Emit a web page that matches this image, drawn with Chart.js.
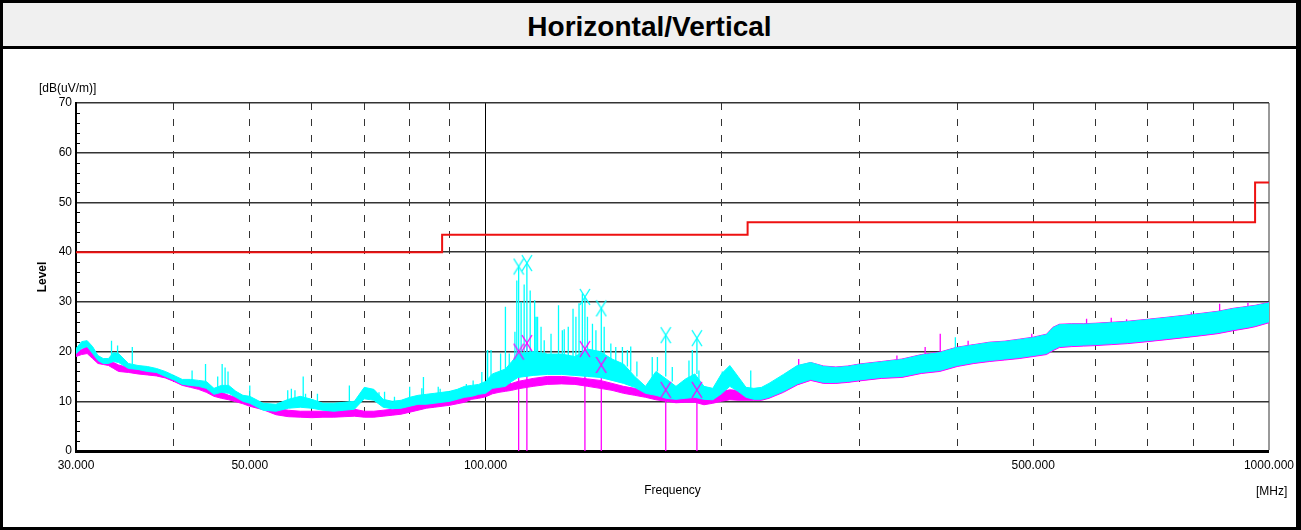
<!DOCTYPE html>
<html><head><meta charset="utf-8">
<script src="https://cdn.jsdelivr.net/npm/chart.js@4/dist/chart.umd.min.js"></script>
<style>
html,body{margin:0;padding:0;background:#fff;}
#wrap{position:relative;width:1301px;height:530px;overflow:hidden;}
#c{position:absolute;left:0;top:0;}
#frame{position:absolute;left:0;top:0;width:1301px;height:530px;box-sizing:border-box;border:3px solid #000;border-right-width:5px;pointer-events:none;}
#title{position:absolute;left:3px;top:3px;width:1293px;height:43px;background:#f0f0f0;border-bottom:3px solid #000;text-align:center;font:bold 28px 'Liberation Sans',Arial,sans-serif;line-height:47px;color:#000;}
.unit{position:absolute;font:12px 'Liberation Sans Narrow','Liberation Sans',Arial,sans-serif;color:#000;white-space:nowrap;line-height:12px;}
</style></head><body>
<div id="wrap">
<canvas id="c" width="1301" height="530"></canvas>
<div id="title">Horizontal/Vertical</div>
<div class="unit" style="left:39px;top:82px">[dB(uV/m)]</div>
<div class="unit" style="left:1256px;top:485px">[MHz]</div>
<div id="frame"></div>
</div>
<script>
// ---- data ----
const freqMHz = [
 30,30.5,31,31.5,32,32.5,33,33.5,34,35,
 36,37,38,39,40,41,42,43,44,45,
 46,47,48,49,50,52,54,56,58,60,
 62,64,66,68,70,72,74,76,78,80,
 82,84,86,88,90,92,94,96,98,100,
 102,104,106,108,110,115,120,125,130,135,
 140,145,150,155,160,165,170,175,180,185,
 190,195,200,205,210,215,220,225,230,240,
 250,260,270,280,290,300,320,340,360,380,
 400,420,440,460,480,500,520,530,540,560,
 580,600,630,660,700,740,780,820,860,900,
 940,960,980,1000];
const magentaTop = [
 20.0,20.4,21.0,19.8,18.6,18.3,18.0,17.8,17.3,16.8,
 16.5,16.3,16.2,15.7,15.0,14.2,13.7,13.4,12.8,12.0,
 11.8,11.2,10.8,10.4,10.2,9.2,8.6,8.2,8.0,8.0,
 8.0,8.1,8.3,8.4,8.0,8.0,8.2,8.4,8.6,9.0,
 9.4,9.8,10.0,10.2,10.4,10.7,11.0,11.6,11.9,12.2,
 12.8,13.1,13.4,13.6,14.0,14.6,15.0,15.0,14.8,14.5,
 14.2,13.6,13.0,12.6,12.2,11.8,11.4,11.0,11.4,11.8,
 11.0,11.5,12.0,12.3,12.2,12.0,11.8,12.4,13.2,15.2,
 17.1,17.8,17.1,16.9,17.1,17.5,18.0,18.5,19.4,19.9,
 20.9,21.4,21.9,22.1,22.5,22.9,23.5,24.9,25.5,25.6,
 25.6,25.7,25.9,26.1,26.5,26.9,27.3,27.7,28.1,28.7,
 29.1,29.3,29.6,29.9];
const magentaBottom = [
 19.0,19.4,19.6,18.6,17.6,17.4,17.2,16.6,16.0,15.8,
 15.5,15.3,15.1,14.7,14.0,13.2,12.8,12.4,11.8,11.0,
 10.6,10.3,9.9,9.5,9.0,8.3,7.3,6.9,6.8,6.7,
 6.8,6.8,6.9,7.0,6.8,6.8,7.0,7.2,7.4,7.8,
 8.2,8.6,8.8,9.0,9.2,9.5,9.8,10.4,10.6,10.9,
 11.5,11.8,12.0,12.2,12.5,13.0,13.4,13.5,13.4,13.0,
 12.6,12.2,11.6,11.2,10.8,10.3,10.0,9.7,9.8,9.8,
 9.3,9.6,10.0,10.3,10.2,10.2,10.2,10.2,10.6,11.8,
 13.3,14.2,13.6,13.6,13.8,14.1,14.6,14.8,15.6,16.0,
 17.0,17.6,18.0,18.3,18.6,19.0,19.4,20.2,20.8,21.0,
 21.1,21.2,21.4,21.6,22.0,22.4,22.8,23.2,23.6,24.2,
 24.7,25.0,25.4,25.8];
const cyanTop = [
 20.6,22.0,22.2,21.0,19.2,18.6,18.6,19.8,19.6,17.6,
 17.2,17.0,16.6,16.0,15.2,14.4,14.4,14.2,14.0,12.6,
 13.2,13.2,12.0,11.2,11.0,9.6,9.4,10.4,11.0,10.4,
 9.6,9.6,9.8,10.0,12.8,12.4,10.4,10.0,10.2,10.8,
 11.2,11.4,11.6,11.8,12.0,12.4,13.0,13.2,13.4,14.0,
 15.5,16.0,16.5,18.0,19.5,20.0,19.5,19.5,19.0,20.5,
 20.0,18.5,17.5,15.0,13.0,16.0,14.5,13.0,14.5,15.5,
 13.0,12.6,15.5,17.2,15.0,12.8,12.6,12.8,13.6,15.4,
 17.2,17.8,17.0,16.8,17.0,17.4,17.9,18.4,19.3,19.8,
 20.8,21.3,21.8,22.0,22.4,22.8,23.4,24.8,25.4,25.5,
 25.5,25.6,25.8,26.0,26.4,26.8,27.2,27.6,28.0,28.6,
 29.0,29.2,29.5,29.8];
const cyanBottom = [
 19.6,20.6,21.0,19.6,18.2,17.6,17.6,18.0,17.8,16.6,
 16.4,16.0,15.8,15.0,14.3,13.4,13.2,13.0,12.6,11.4,
 11.8,11.6,10.8,10.0,9.6,8.2,8.0,8.6,8.8,8.6,
 8.2,8.0,8.2,8.4,10.5,10.2,8.8,8.5,8.6,9.0,
 9.4,9.4,9.6,9.8,10.0,10.4,10.8,11.0,11.4,11.6,
 12.6,12.8,13.0,14.0,14.8,15.2,15.4,15.4,15.2,15.0,
 14.8,14.2,13.6,12.8,11.6,11.2,10.6,10.4,10.6,10.8,
 10.4,10.3,11.5,13.0,12.0,10.8,10.4,10.4,10.8,12.0,
 13.5,14.4,13.8,13.8,14.0,14.3,14.8,15.0,15.8,16.2,
 17.2,17.8,18.2,18.5,18.8,19.2,19.6,20.4,21.0,21.2,
 21.3,21.4,21.6,21.8,22.2,22.6,23.0,23.4,23.8,24.4,
 24.9,25.2,25.6,26.0];
// narrow spikes of the cyan trace: frequency, band level, peak level
const cyanSpikeFreq = [
 33.3,33.9,35.4,42.2,43.9,45.5,46.1,46.5,46.9,50.0,
 55.9,56.5,57.1,58.5,58.9,61.0,67.0,73.1,74.3,76.5,
 80.0,82.9,83.3,87.0,87.5,91.0,94.5,96.4,98.9,100.5,
 100.6,101.6,104.5,106.0,107.2,109.0,109.6,110.2,111.0,112.0,
 112.9,114.0,115.5,116.0,116.5,117.7,118.8,121.2,123.9,125.3,
 126.0,127.5,129.3,130.4,131.6,132.9,133.9,134.9,136.9,138.3,
 140.5,141.7,144.5,146.6,149.5,151.7,153.2,156.0,163.2,165.7,
 169.8,173.1,181.8,183.6,186.1,187.2,200.5,218.0,397.8];
const cyanSpikeBase = [
 18.6,19.0,17.4,14.2,14.0,12.5,13.0,13.0,13.0,10.5,
 9.6,9.6,10.0,10.5,10.5,9.6,10.0,10.0,10.0,9.5,
 10.5,11.0,11.0,11.5,11.5,12.0,12.5,13.0,13.2,14.0,
 14.0,15.0,16.0,16.5,17.0,18.0,19.0,19.0,19.0,19.5,
 19.5,19.5,19.5,19.5,19.5,19.5,19.0,19.0,19.0,19.0,
 19.0,19.0,19.0,19.0,19.5,19.5,20.0,20.0,20.0,20.0,
 20.0,19.5,18.5,18.0,17.0,17.0,16.0,15.0,14.0,16.0,
 15.0,14.0,14.0,15.0,15.5,14.0,14.0,12.0,20.0];
const cyanSpikePeak = [
 22.2,21.2,20.9,16.2,17.5,15.0,17.5,16.8,16.0,13.2,
 12.2,12.5,12.2,15.0,11.5,11.5,13.2,11.8,11.9,10.9,
 12.9,12.6,14.9,12.9,12.5,12.2,13.5,14.2,15.9,20.2,
 20.3,20.3,19.6,29.0,19.6,24.0,34.3,37.1,30.0,33.5,
 37.8,32.3,30.3,27.0,27.0,25.0,22.3,23.6,29.3,24.3,
 24.5,25.0,28.6,27.0,29.7,31.7,31.0,27.0,25.6,24.3,
 28.7,25.0,21.6,20.9,20.9,20.3,21.0,18.0,18.9,18.9,
 23.3,16.9,18.2,20.3,22.7,16.2,16.0,16.2,22.9];
const magentaSpikeFreq = [251, 335, 364, 380.5, 413, 432, 498, 585, 629, 658, 796, 865, 940];
const magentaSpikeBase = [17.0, 18.2, 18.5, 19.5, 20.0, 20.5, 22.5, 25.0, 25.5, 25.5, 27.0, 28.0, 28.8];
const magentaSpikePeak = [18.5, 19.2, 20.9, 23.6, 22.2, 21.5, 23.6, 26.6, 26.8, 26.5, 27.9, 29.6, 29.8];
// final-measurement markers
const markerFreq = [110.2, 112.9, 133.9, 140.5, 169.8, 186.1];
const cyanMarker = [37.1, 37.8, 31.0, 28.7, 23.3, 22.7];
const magentaMarker = [20.0, 21.7, 20.5, 17.3, 12.3, 12.3];
// limit line (step)
const limitFreq = [30, 88, 216, 960, 1000];
const limitLevel = [40, 43.5, 46, 54, 54];
// axes
const xGridFreq = [30,40,50,60,70,80,90,100,200,300,400,500,600,700,800,900,1000];
const xLabelFreq = [30,50,100,500,1000];

// ---- build ----
const pts = (xs, ys) => xs.map((x, i) => ({x, y: ys[i]}));
function spikes(fs, base, peak){
  const out=[];
  fs.forEach((f,i)=>{out.push({x:f,y:base[i]},{x:f,y:peak[i]},{x:f,y:null});});
  return out;
}
function markerLines(fs, lv){
  const out=[];
  fs.forEach((f,i)=>{out.push({x:f,y:0},{x:f,y:lv[i]},{x:f,y:null});});
  return out;
}
function makeX(color){
  const c=document.createElement('canvas');c.width=12;c.height=18;
  const g=c.getContext('2d');g.strokeStyle=color;g.lineWidth=1.4;
  g.beginPath();g.moveTo(1,1);g.lineTo(11,17);g.moveTo(11,1);g.lineTo(1,17);g.stroke();
  return c;
}
const CY='#00ffff', MG='#ff00ff';
Chart.defaults.font.family="'Liberation Sans Narrow','Liberation Sans',Arial,sans-serif";
Chart.defaults.color='#000';

const minorTicks={id:'minorTicks',afterDraw(chart){
  const y=chart.scales.y, ctx=chart.ctx, x0=chart.chartArea.left;
  ctx.save();ctx.strokeStyle='#000';ctx.lineWidth=1;
  for(let v=y.min; v<=y.max; v+=2){
    if(v%10===0) continue;
    const py=Math.round(y.getPixelForValue(v))+0.5;
    ctx.beginPath();ctx.moveTo(x0,py);ctx.lineTo(x0+4,py);ctx.stroke();
  }
  ctx.restore();
}};

const line=(o)=>Object.assign({pointRadius:0,borderWidth:1,tension:0,spanGaps:false,fill:false},o);

new Chart(document.getElementById('c'),{
  type:'line',
  data:{datasets:[
    {data:pts(markerFreq,cyanMarker),showLine:false,pointStyle:makeX(CY),pointRadius:9,borderColor:CY,backgroundColor:CY},
    {data:pts(markerFreq,magentaMarker),showLine:false,pointStyle:makeX(MG),pointRadius:9,borderColor:MG,backgroundColor:MG},
    line({data:pts(limitFreq,limitLevel),borderColor:'#ee1111',borderWidth:2,stepped:'before'}),
    line({data:spikes(cyanSpikeFreq,cyanSpikeBase,cyanSpikePeak),borderColor:CY,borderWidth:1.3}),
    line({data:pts(freqMHz,cyanTop),borderColor:CY,backgroundColor:CY,fill:'+1'}),
    line({data:pts(freqMHz,cyanBottom),borderColor:CY}),
    line({data:spikes(magentaSpikeFreq,magentaSpikeBase,magentaSpikePeak),borderColor:MG,borderWidth:1.3}),
    line({data:pts(freqMHz,magentaTop),borderColor:MG,backgroundColor:MG,fill:'+1'}),
    line({data:pts(freqMHz,magentaBottom),borderColor:MG}),
    line({data:markerLines(markerFreq,magentaMarker),borderColor:MG,borderWidth:1.3})
  ]},
  options:{
    responsive:false,animation:false,devicePixelRatio:1,
    layout:{padding:{left:0,right:30,top:103,bottom:0}},
    plugins:{legend:{display:false},tooltip:{enabled:false}},
    scales:{
      x:{type:'logarithmic',min:30,max:1000,
        afterBuildTicks(s){s.ticks=xGridFreq.map(v=>({value:v}));},
        afterFit(s){s.height=79;},
        ticks:{autoSkip:false,maxRotation:0,padding:7,font:{size:12},
          callback(v){return xLabelFreq.includes(v)?Number(v).toFixed(3):'';}},
        grid:{drawTicks:false,
          color(c){const v=c.tick&&c.tick.value; if(v===30) return 'rgba(0,0,0,0)'; if(v===1000) return '#999'; if(v===100) return '#000'; return '#333';},
          lineWidth(c){const v=c.tick&&c.tick.value; return v===1000?2:1;}},
        border:{display:true,color:'#000',width:3,
          dash(c){const v=c.tick&&c.tick.value; if(v===undefined||v===30||v===100||v===1000) return []; return [7,9];}},
        title:{display:true,text:'Frequency',font:{size:12},padding:{top:0,bottom:32}}
      },
      y:{min:0,max:70,
        afterFit(s){s.width=76;},
        ticks:{stepSize:10,padding:4,font:{size:12}},
        grid:{drawTicks:false,color:'#333',lineWidth:1.5},
        border:{display:true,color:'#000',width:2},
        title:{display:true,text:'Level',font:{size:12,weight:'bold'},padding:{top:35,bottom:0}}
      }
    }
  },
  plugins:[minorTicks]
});
</script>
</body></html>
